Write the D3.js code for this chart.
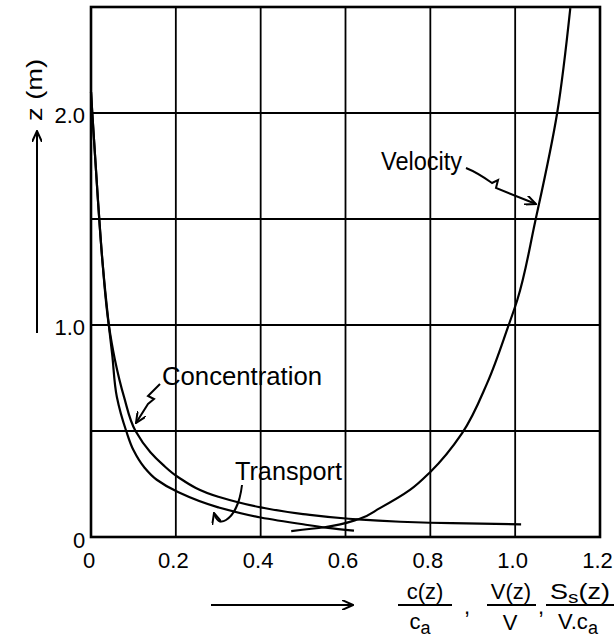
<!DOCTYPE html>
<html>
<head>
<meta charset="utf-8">
<script src="https://cdn.jsdelivr.net/npm/d3@7"></script>
<style>
  body { margin: 0; background: #fff; }
  svg text { font-family: "Liberation Sans", Arial, sans-serif; fill: #000; }
</style>
</head>
<body>
<svg id="chart" width="616" height="640"></svg>
<script>
// ---- data (x = ratio, z in m) ----
const xTicks = [0.2, 0.4, 0.6, 0.8, 1.0, 1.2];
const xTickLabels = ["0.2", "0.4", "0.6", "0.8", "1.0", "1.2"];
const yTicks = [1.0, 2.0];
const yTickLabels = ["1.0", "2.0"];
const xGrid = [0.2, 0.4, 0.6, 0.8, 1.0];
const yGrid = [0.5, 1.0, 1.5, 2.0];

const velocity = [
    [0.472, 0.028], [0.55, 0.046], [0.632, 0.085], [0.68, 0.135], [0.752, 0.222],
    [0.80, 0.307], [0.875, 0.49], [0.934, 0.726], [0.983, 0.99], [1.005, 1.118],
    [1.047, 1.486], [1.099, 2.0], [1.13, 2.495]
];
const concentration = [
    [0.0, 2.1], [0.003, 2.0], [0.016, 1.6], [0.027, 1.3], [0.042, 1.0], [0.056, 0.84],
    [0.078, 0.66], [0.105, 0.5], [0.14, 0.4], [0.17, 0.34], [0.205, 0.283], [0.30, 0.19],
    [0.40, 0.14], [0.50, 0.108], [0.608, 0.086], [0.729, 0.072], [0.85, 0.065], [1.014, 0.06]
];
const transport = [
    [0.0, 2.1], [0.003, 2.0], [0.016, 1.6], [0.027, 1.3], [0.042, 1.0], [0.05, 0.86],
    [0.061, 0.66], [0.083, 0.5], [0.10, 0.41], [0.125, 0.33], [0.155, 0.27], [0.205, 0.212],
    [0.30, 0.14], [0.40, 0.092], [0.50, 0.06], [0.559, 0.043], [0.62, 0.03]
];

const svg = d3.select("#chart");
const x = d3.scaleLinear().domain([0, 1.2]).range([91, 600]);
const y = d3.scaleLinear().domain([0, 2.5]).range([537, 7]);

// arrowhead marker (open chevron)
svg.append("defs").append("marker")
    .attr("id", "head")
    .attr("markerUnits", "userSpaceOnUse")
    .attr("viewBox", "0 0 12 10")
    .attr("refX", 11).attr("refY", 5)
    .attr("markerWidth", 12).attr("markerHeight", 10)
    .attr("orient", "auto")
    .append("path")
    .attr("d", "M0,0 L11,5 L0,10")
    .attr("fill", "none")
    .attr("stroke", "#000")
    .attr("stroke-width", 2);

// grid
const grid = svg.append("g").attr("stroke", "#000").attr("stroke-width", 1.8);
grid.selectAll(".vg").data(xGrid).join("line")
    .attr("x1", d => x(d)).attr("x2", d => x(d))
    .attr("y1", y(0)).attr("y2", y(2.5));
grid.selectAll(".hg").data(yGrid).join("line")
    .attr("x1", x(0)).attr("x2", x(1.2))
    .attr("y1", d => y(d)).attr("y2", d => y(d));

// frame
svg.append("rect")
    .attr("x", x(0)).attr("y", y(2.5))
    .attr("width", x(1.2) - x(0)).attr("height", y(0) - y(2.5))
    .attr("fill", "none").attr("stroke", "#000").attr("stroke-width", 2.6);

// curves - monotone in z keeps the steep profiles smooth
const line = d3.line()
    .x(d => x(d[0]))
    .y(d => y(d[1]))
    .curve(d3.curveMonotoneY);

[velocity, concentration, transport].forEach(series => {
    svg.append("path")
        .datum(series)
        .attr("d", line)
        .attr("fill", "none")
        .attr("stroke", "#000")
        .attr("stroke-width", 2.2);
});

// tick labels via axes, no tick marks / domain
const xAxis = svg.append("g")
    .attr("transform", `translate(-3,${y(0) + 12})`)
    .call(d3.axisBottom(x).tickValues(xTicks).tickSize(0)
        .tickFormat((d, i) => xTickLabels[i]));
xAxis.select(".domain").remove();
xAxis.selectAll("text").attr("font-size", 22).attr("font-family", "Liberation Sans");

const yAxis = svg.append("g")
    .attr("transform", `translate(${x(0) - 3},0)`)
    .call(d3.axisLeft(y).tickValues(yTicks).tickSize(0)
        .tickFormat((d, i) => yTickLabels[i]));
yAxis.select(".domain").remove();
yAxis.selectAll("text").attr("font-size", 22).attr("font-family", "Liberation Sans")
    .attr("dy", "0.45em");

// origin zeros
svg.append("text").attr("x", 79).attr("y", 548).attr("text-anchor", "middle")
    .attr("font-size", 22).text("0");
svg.append("text").attr("x", 89).attr("y", 568).attr("text-anchor", "middle")
    .attr("font-size", 22).text("0");

// y axis title with arrow
svg.append("text")
    .attr("transform", "translate(42,121) rotate(-90)")
    .attr("font-size", 22)
    .attr("textLength", 62)
    .attr("lengthAdjust", "spacingAndGlyphs")
    .text("z  (m)");
svg.append("line")
    .attr("x1", 37).attr("x2", 37).attr("y1", 333).attr("y2", 131)
    .attr("stroke", "#000").attr("stroke-width", 2)
    .attr("marker-end", "url(#head)");

// x axis title: arrow and fractions
svg.append("line")
    .attr("x1", 211).attr("x2", 353).attr("y1", 605).attr("y2", 605)
    .attr("stroke", "#000").attr("stroke-width", 2)
    .attr("marker-end", "url(#head)");

const frac = svg.append("g").attr("font-size", 22);
const bars = [[398, 452], [487, 536], [546, 614]];
frac.selectAll(".bar").data(bars).join("line")
    .attr("x1", d => d[0]).attr("x2", d => d[1])
    .attr("y1", 605).attr("y2", 605)
    .attr("stroke", "#000").attr("stroke-width", 2);

frac.append("text").attr("x", 425).attr("y", 599).attr("text-anchor", "middle").text("c(z)");
const den1 = frac.append("text").attr("x", 420).attr("y", 629).attr("text-anchor", "middle");
den1.append("tspan").text("c");
den1.append("tspan").attr("dy", 5).attr("font-size", 18).text("a");

frac.append("text").attr("x", 511).attr("y", 599).attr("text-anchor", "middle").text("V(z)");
frac.append("text").attr("x", 510).attr("y", 630).attr("text-anchor", "middle").text("V");

const num3 = frac.append("text").attr("x", 580).attr("y", 599).attr("text-anchor", "middle")
    .attr("textLength", 60).attr("lengthAdjust", "spacingAndGlyphs");
num3.append("tspan").text("S");
num3.append("tspan").attr("dy", 4).attr("font-size", 17).text("s");
num3.append("tspan").attr("dy", -4).text("(z)");
const den3 = frac.append("text").attr("x", 578).attr("y", 629).attr("text-anchor", "middle");
den3.append("tspan").text("V.c");
den3.append("tspan").attr("dy", 5).attr("font-size", 18).text("a");

frac.append("text").attr("x", 467).attr("y", 614).attr("text-anchor", "middle").text(",");
frac.append("text").attr("x", 541).attr("y", 614).attr("text-anchor", "middle").text(",");

// curve labels
const labels = [
    { text: "Velocity", x: 381, y: 170, len: 81 },
    { text: "Concentration", x: 162, y: 385, len: 160 },
    { text: "Transport", x: 235, y: 480, len: 107 }
];
svg.selectAll(".lbl").data(labels).join("text")
    .attr("x", d => d.x).attr("y", d => d.y)
    .attr("font-size", 25)
    .attr("textLength", d => d.len)
    .attr("lengthAdjust", "spacingAndGlyphs")
    .text(d => d.text);

// squiggly pointer arrows
const pointers = [
    "M466,168 C476,172 485,178 492,183 L498,180 L496,188 L536,204",
    "M160,384 L152,392 L148,396 L154,399 L148,404 L136,423",
    "M242,485 C240,502 234,515 226,520 C220,524 216,520 214,513"
];
svg.selectAll(".ptr").data(pointers).join("path")
    .attr("d", d => d)
    .attr("fill", "none")
    .attr("stroke", "#000")
    .attr("stroke-width", 2)
    .attr("marker-end", "url(#head)");
</script>
</body>
</html>
